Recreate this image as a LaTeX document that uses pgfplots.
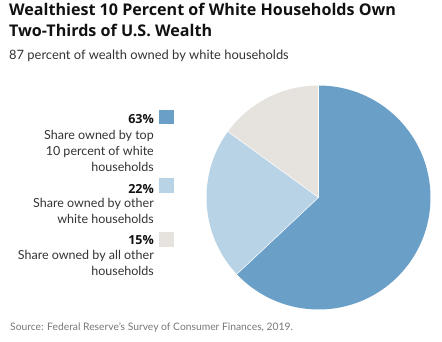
\documentclass[border=0pt]{standalone}
\usepackage{pgfplots}
\usepackage{pgfplotstable}
\pgfplotsset{compat=1.18}
\usepackage{fontspec}
\setmainfont{Lato}
\newfontfamily\boldfont{Open Sans}
\definecolor{pieA}{HTML}{6A9FC8}
\definecolor{pieB}{HTML}{B8D2E6}
\definecolor{pieC}{HTML}{E6E2DE}
\definecolor{titlec}{HTML}{111111}
\definecolor{textc}{HTML}{333333}
\definecolor{srcc}{HTML}{777777}

\pgfplotstableread{
label share
top 63
other 22
rest 15
}\sharetable
\pgfplotstablegetelem{0}{share}\of\sharetable \let\sA\pgfplotsretval
\pgfplotstablegetelem{1}{share}\of\sharetable \let\sB\pgfplotsretval
\pgfplotstablegetelem{2}{share}\of\sharetable \let\sC\pgfplotsretval
\pgfmathsetmacro\aA{90-3.6*\sA}
\pgfmathsetmacro\aB{\aA-3.6*\sB}
\pgfmathsetmacro\aC{\aB-3.6*\sC}
\pgfmathsetmacro\xA{cos(\aA)}
\pgfmathsetmacro\yA{sin(\aA)}
\pgfmathsetmacro\xB{cos(\aB)}
\pgfmathsetmacro\yB{sin(\aB)}

\begin{document}
\begin{tikzpicture}
\begin{axis}[
  at={(318.5pt,143.5pt)}, anchor=center,
  scale only axis, width=224pt, height=224pt,
  xmin=-1, xmax=1, ymin=-1, ymax=1,
  hide axis, clip=false]
\fill[pieA] (axis cs:0,0) -- (axis cs:0,1) arc[start angle=90, end angle=\aA, radius=112pt] -- cycle;
\fill[pieB] (axis cs:0,0) -- (axis cs:\xA,\yA) arc[start angle=\aA, end angle=\aB, radius=112pt] -- cycle;
\fill[pieC] (axis cs:0,0) -- (axis cs:\xB,\yB) arc[start angle=\aB, end angle=\aC, radius=112pt] -- cycle;
\draw[white, line width=0.5pt] (axis cs:0,0) -- (axis cs:0,1);
\draw[white, line width=0.5pt] (axis cs:0,0) -- (axis cs:\xA,\yA);
\draw[white, line width=0.5pt] (axis cs:0,0) -- (axis cs:\xB,\yB);
\end{axis}
% title
\node[anchor=base west, inner sep=0, text=titlec, font=\fontsize{16.1}{18}\boldfont\bfseries] at (9pt,325pt) {Wealthiest 10 Percent of White Households Own};
\node[anchor=base west, inner sep=0, text=titlec, font=\fontsize{16.1}{18}\boldfont\bfseries] at (9pt,305pt) {Two-Thirds of U.S. Wealth};
\node[anchor=base west, inner sep=0, text=textc, font=\fontsize{12.9}{14}\selectfont] at (9pt,281pt) {87 percent of wealth owned by white households};
% legend
\fill[pieA] (159pt,217pt) rectangle (174pt,231pt);
\fill[pieB] (159pt,148pt) rectangle (174pt,163pt);
\fill[pieC] (159pt,94pt) rectangle (174pt,109pt);
\begin{scope}[every node/.style={anchor=base east, inner sep=0, text=textc, font=\fontsize{12.5}{14}\selectfont}]
\node[text=titlec, font=\fontsize{12.5}{14}\boldfont\bfseries] at (154pt,218pt) {\sA\%};
\node at (154pt,202pt) {Share owned by top};
\node at (154pt,186pt) {10 percent of white};
\node at (154pt,170pt) {households};
\node[text=titlec, font=\fontsize{12.5}{14}\boldfont\bfseries] at (154pt,148pt) {\sB\%};
\node at (154pt,134pt) {Share owned by other};
\node at (154pt,118pt) {white households};
\node[text=titlec, font=\fontsize{12.5}{14}\boldfont\bfseries] at (154pt,97pt) {\sC\%};
\node at (154pt,82pt) {Share owned by all other};
\node at (154pt,66pt) {households};
\end{scope}
\node[anchor=base west, inner sep=0, text=srcc, font=\fontsize{10.3}{11}\selectfont] at (10pt,11pt) {Source: Federal Reserve's Survey of Consumer Finances, 2019.};
\pgfresetboundingbox
\path[use as bounding box] (0pt,0pt) rectangle (442pt,341pt);
\end{tikzpicture}
\end{document}
